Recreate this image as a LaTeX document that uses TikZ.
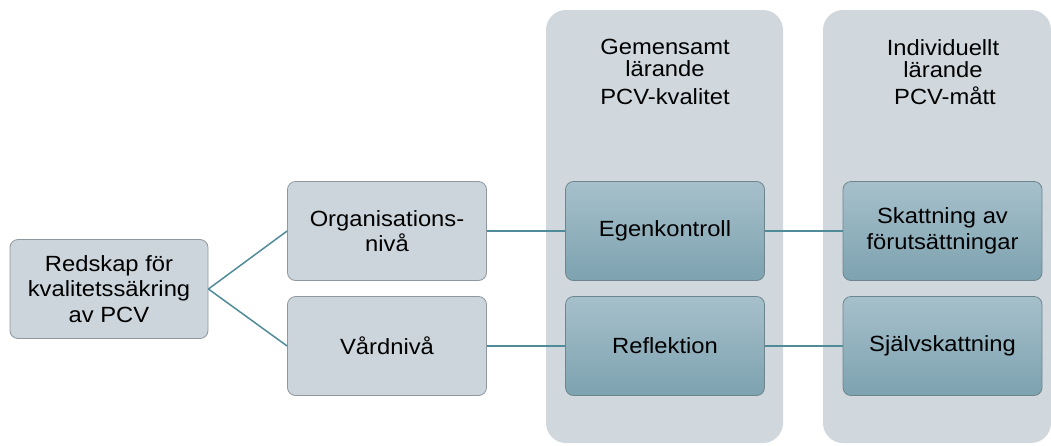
\documentclass[tikz,border=0pt]{standalone}
\usepackage{fontspec}
\setmainfont{Liberation Sans}[FakeStretch=1.08]

\definecolor{paleBox}{HTML}{CCD5DB}
\definecolor{paleLine}{HTML}{8E989E}
\definecolor{colFill}{HTML}{D0D8DE}
\definecolor{deepTop}{HTML}{A6C0CB}
\definecolor{deepBot}{HTML}{7DA2B0}
\definecolor{deepLine}{HTML}{6E858E}
\definecolor{linkTeal}{HTML}{4F8B98}

\tikzset{
  levelbox/.style={draw=paleLine, fill=paleBox, rounded corners=8pt, line width=0.8pt,
    minimum width=199pt, minimum height=99pt, align=center, inner sep=2pt,
    font=\fontsize{22}{25.5}\selectfont},
  toolbox/.style={draw=deepLine, top color=deepTop, bottom color=deepBot, rounded corners=8pt,
    line width=0.8pt, minimum width=199pt, minimum height=99pt, align=center, inner sep=2pt,
    font=\fontsize{22}{25.5}\selectfont},
  column/.style={fill=colFill, rounded corners=20pt, inner sep=0pt},
  header/.style={align=center, inner sep=0pt, font=\fontsize{22}{22}\selectfont},
  link/.style={linkTeal, line width=1.5pt}
}

\begin{document}
\begin{tikzpicture}[x=1pt,y=-1pt]
    \useasboundingbox (0,0) rectangle (1051,445);

    % Background columns
    \node[column, minimum width=237pt, minimum height=433pt] (colA) at (664.5,226.5) {};
    \node[column, minimum width=228pt, minimum height=433pt] (colB) at (937,226.5) {};

    % Column headers
    \node[header, anchor=north] (headA) at (665,39) {Gemensamt\\lärande};
    \node[header, anchor=base] (subA) at (665,104) {PCV-kvalitet};
    \node[header, anchor=north] (headB) at (943,39) {Individuellt\\lärande};
    \node[header, anchor=base] (subB) at (945,104) {PCV-mått};

    % Boxes
    \node[levelbox, minimum width=198pt] (root) at (109,289) {Redskap för\\kvalitetssäkring\\av PCV};
    \node[levelbox] (org) at (387,231) {Organisations-\\nivå};
    \node[levelbox] (vard) at (387,346) {Vårdnivå};
    \node[toolbox] (egen) at (665,231) {Egenkontroll};
    \node[toolbox] (refl) at (665,346) {Reflektion};
    \node[toolbox] (skatt) at (942.5,231) {Skattning av\\förutsättningar};
    \node[toolbox] (sjalv) at (942.5,346) {Självskattning};

    % Connectors
    \draw[link] (root.east) -- (org.west);
    \draw[link] (root.east) -- (vard.west);
    \draw[link] (org.east) -- (egen.west);
    \draw[link] (vard.east) -- (refl.west);
    \draw[link] (egen.east) -- (skatt.west);
    \draw[link] (refl.east) -- (sjalv.west);
\end{tikzpicture}
\end{document}
